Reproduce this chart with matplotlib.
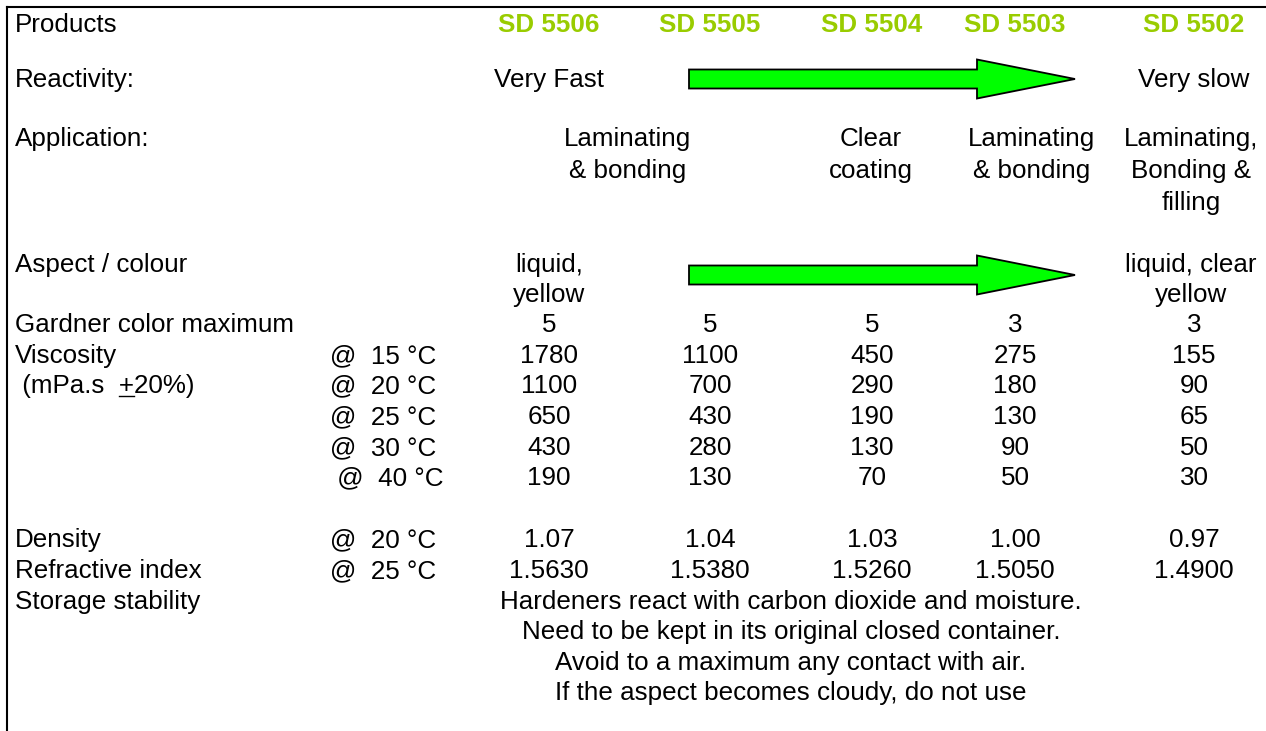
import matplotlib.pyplot as plt
from matplotlib.patches import Polygon

plt.rcParams['font.family'] = ['Liberation Sans', 'DejaVu Sans']

# data
products = ['SD 5506', 'SD 5505', 'SD 5504', 'SD 5503', 'SD 5502']
reactivity = ['Very Fast', 'Very slow']
application = ['Laminating\n& bonding', 'Clear\ncoating', 'Laminating\n& bonding',
               'Laminating,\nBonding &\nfilling']
aspect = ['liquid,\nyellow', 'liquid, clear\nyellow']
gardner = [5, 5, 5, 3, 3]
visc_temps = ['@  15 °C', '@  20 °C', '@  25 °C', '@  30 °C', ' @  40 °C']
viscosity = [
    [1780, 1100, 450, 275, 155],
    [1100, 700, 290, 180, 90],
    [650, 430, 190, 130, 65],
    [430, 280, 130, 90, 50],
    [190, 130, 70, 50, 30],
]
density = [1.07, 1.04, 1.03, 1.00, 0.97]
refractive = [1.5630, 1.5380, 1.5260, 1.5050, 1.4900]
storage = ['Hardeners react with carbon dioxide and moisture.',
           'Need to be kept in its original closed container.',
           'Avoid to a maximum any contact with air.',
           'If the aspect becomes cloudy, do not use']

# layout (pixels)
W, H = 1266, 731
FS = 26 * 72 / 100
col_x = [549, 710, 872, 1015, 1194]
app_x = [628, 871, 1032, 1191]
lab_x, cond_x = 15, 330
green_head = '#99CC00'

fig = plt.figure(figsize=(W / 100, H / 100), dpi=100)
ax = fig.add_axes([0, 0, 1, 1])
ax.set_xlim(0, W)
ax.set_ylim(H, 0)
ax.axis('off')


def put(x, y, s, ha='center', step=30, **kw):
    # y is the visual centre of the first line
    for i, line in enumerate(s.split('\n')):
        ax.text(x, y + i * step + 9, line, ha=ha, va='baseline', fontsize=FS, **kw)


def arrow(x0, x1, yc, body=9.5, head=19.5, head_len=98):
    xb = x1 - head_len
    pts = [(x0, yc - body), (xb, yc - body), (xb, yc - head), (x1, yc),
           (xb, yc + head), (xb, yc + body), (x0, yc + body)]
    ax.add_patch(Polygon(pts, closed=True, facecolor='#00FF00', edgecolor='black', lw=1.3))


# frame (top and left only)
ax.plot([7, W], [7, 7], color='black', lw=1.5, solid_capstyle='projecting')
ax.plot([7, 7], [7, H], color='black', lw=1.5, solid_capstyle='projecting')

# row labels
put(lab_x, 23, 'Products', ha='left')
put(lab_x, 78, 'Reactivity:', ha='left')
put(lab_x, 137, 'Application:', ha='left')
put(lab_x, 263, 'Aspect / colour', ha='left')
put(lab_x, 323, 'Gardner color maximum', ha='left')
put(lab_x, 354, 'Viscosity', ha='left')
put(lab_x, 538, 'Density', ha='left')
put(lab_x, 569, 'Refractive index', ha='left')
put(lab_x, 600, 'Storage stability', ha='left')

# "(mPa.s +20%)" with underlined plus sign
prefix = ' (mPa.s  '
put(lab_x, 384, prefix + '+20%)', ha='left')
r = fig.canvas.get_renderer()
tmp = ax.text(lab_x, 393, prefix, fontsize=FS)
w0 = tmp.get_window_extent(r).width
tmp.set_text(prefix + '+')
w1 = tmp.get_window_extent(r).width
tmp.remove()
ax.plot([lab_x + w0, lab_x + w1], [396, 396], color='black', lw=1.0)

# product headers
for x, p in zip(col_x, products):
    put(x, 23, p, color=green_head, fontweight='bold')

# reactivity
put(col_x[0], 78, reactivity[0])
put(col_x[4], 78, reactivity[1])
arrow(689, 1075, 79)

# application
for x, a in zip(app_x, application):
    put(x, 137, a, step=32)

# aspect
put(col_x[0], 263, aspect[0])
put(col_x[4] - 3, 263, aspect[1])
arrow(689, 1075, 275)

# gardner
for x, g in zip(col_x, gardner):
    put(x, 323, str(g))

# viscosity
visc_y = [354, 384, 415, 446, 476]
for y, t, row in zip(visc_y, visc_temps, viscosity):
    put(cond_x, y, t, ha='left')
    for x, v in zip(col_x, row):
        put(x, y, str(v))

# density / refractive index
put(cond_x, 538, '@  20 °C', ha='left')
put(cond_x, 569, '@  25 °C', ha='left')
for x, d, n in zip(col_x, density, refractive):
    put(x, 538, f'{d:.2f}')
    put(x, 569, f'{n:.4f}')

# storage
for i, s in enumerate(storage):
    put(791, 600 + i * 30.3, s)

fig.savefig('out.png', dpi=100)
